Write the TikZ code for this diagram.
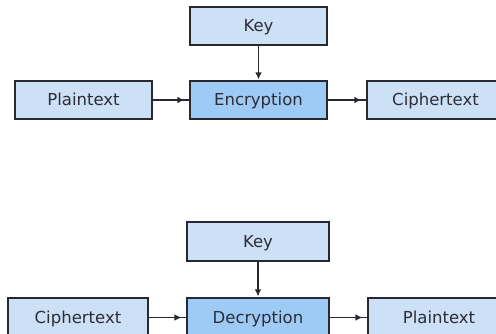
\documentclass[tikz,border=0pt]{standalone}
\usepackage{fontspec}
\setmainfont{DejaVu Sans}
\usetikzlibrary{arrows.meta}
\definecolor{lightbox}{RGB}{204,224,246}
\definecolor{darkbox}{RGB}{158,202,246}
\definecolor{edge}{RGB}{40,40,48}
\definecolor{txt}{RGB}{45,45,55}
\begin{document}
\begin{tikzpicture}[x=1pt,y=-1pt,
  boxA/.style={draw=edge,line width=1.1pt,fill=lightbox,minimum height=38pt,inner sep=0pt,
    text height=12pt,text depth=1pt,font=\fontsize{16.5}{19}\selectfont,text=txt},
  boxB/.style={boxA,fill=darkbox},
  conn/.style={draw=edge,line width=1.1pt},
  tip/.style={draw=edge,line width=1.1pt,-{Latex[length=7pt,width=6.5pt]}}]
\useasboundingbox (0,0) rectangle (496,333);
\clip (0,0) rectangle (496,333);
% top
\node[boxA,minimum width=137pt] (key1) at (258.5,26) {Key};
\node[boxB,minimum width=137pt] (enc) at (258.5,100) {Encryption};
\node[boxA,minimum width=137pt] (pt1) at (83.5,100) {Plaintext};
\node[boxA,minimum width=137pt] (ct1) at (435.5,100) {Ciphertext};
% bottom
\node[boxA,minimum width=142pt,minimum height=39pt] (key2) at (258,241.5) {Key};
\node[boxB,minimum width=142pt,minimum height=39pt] (dec) at (258,317.5) {Decryption};
\node[boxA,minimum width=140pt,minimum height=39pt] (ct2) at (78,317.5) {Ciphertext};
\node[boxA,minimum width=142pt,minimum height=39pt] (pt2) at (439,317.5) {Plaintext};
% connectors
\draw[conn] (pt1) -- (enc);
\draw[tip,shorten >=5pt] (pt1) -- (enc);
\draw[conn] (enc) -- (ct1);
\draw[tip,shorten >=5pt] (enc) -- (ct1);
\draw[tip,shorten >=1pt] (key1) -- (enc);
\draw[conn] (ct2.east) -- (dec.west);
\draw[tip,shorten >=5pt] (ct2.east) -- (dec.west);
\draw[conn] (dec.east) -- (pt2.west);
\draw[tip,shorten >=5pt] (dec.east) -- (pt2.west);
\draw[tip,shorten >=1pt] (key2) -- (dec);
\end{tikzpicture}
\end{document}
